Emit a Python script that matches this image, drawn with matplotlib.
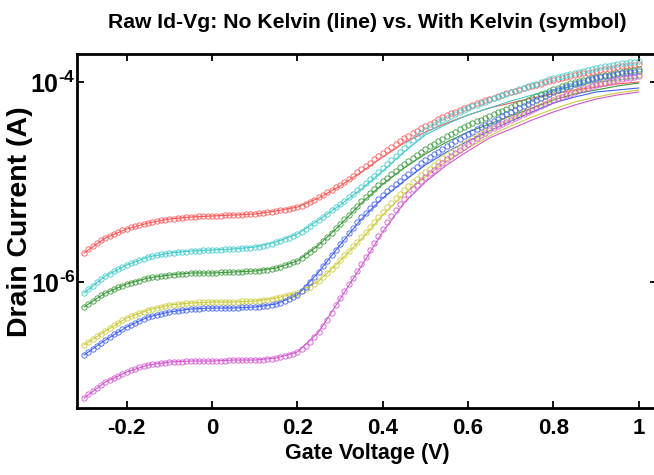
import numpy as np
import matplotlib
matplotlib.use("Agg")
import matplotlib.pyplot as plt

plt.rcParams["mathtext.fontset"] = "custom"
plt.rcParams["mathtext.bf"] = "Liberation Sans:bold"
plt.rcParams["mathtext.rm"] = "Liberation Sans:bold"

SANS = ["Liberation Sans", "DejaVu Sans"]

# Gate sweep for the Kelvin (symbol) measurement: -0.30 V .. 1.00 V in 10 mV steps
vg_kelvin = np.round(np.arange(-0.30, 1.0001, 0.01), 2)
# Gate points for the non-Kelvin (line) measurement: 50 mV steps
vg_line = np.round(np.arange(-0.30, 1.0001, 0.05), 2)

# log10 of drain current (A), With Kelvin
kelvin_red = [
    -5.71, -5.67, -5.64, -5.61, -5.58, -5.56, -5.54, -5.52, -5.50, -5.48,
    -5.47, -5.45, -5.44, -5.43, -5.42, -5.41, -5.40, -5.39, -5.38, -5.38,
    -5.37, -5.37, -5.36, -5.36, -5.35, -5.35, -5.35, -5.34, -5.34, -5.34,
    -5.34, -5.34, -5.34, -5.33, -5.33, -5.33, -5.33, -5.33, -5.32, -5.32,
    -5.32, -5.31, -5.31, -5.30, -5.30, -5.29, -5.28, -5.28, -5.27, -5.26,
    -5.25, -5.24, -5.22, -5.20, -5.18, -5.15, -5.13, -5.10, -5.08, -5.05,
    -5.03, -5.00, -4.97, -4.94, -4.90, -4.87, -4.84, -4.81, -4.77, -4.74,
    -4.71, -4.68, -4.65, -4.62, -4.59, -4.56, -4.54, -4.51, -4.49, -4.46,
    -4.44, -4.42, -4.40, -4.37, -4.35, -4.33, -4.31, -4.30, -4.28, -4.26,
    -4.25, -4.23, -4.21, -4.20, -4.18, -4.17, -4.16, -4.14, -4.13, -4.11,
    -4.10, -4.09, -4.08, -4.06, -4.05, -4.04, -4.03, -4.02, -4.00, -3.99,
    -3.98, -3.97, -3.96, -3.95, -3.94, -3.93, -3.92, -3.91, -3.91, -3.90,
    -3.89, -3.88, -3.87, -3.87, -3.86, -3.85, -3.84, -3.84, -3.83, -3.83,
    -3.82,
]
kelvin_cyan = [
    -6.11, -6.07, -6.04, -6.00, -5.97, -5.94, -5.92, -5.89, -5.87, -5.85,
    -5.83, -5.81, -5.80, -5.78, -5.77, -5.75, -5.74, -5.73, -5.72, -5.72,
    -5.71, -5.71, -5.70, -5.70, -5.70, -5.69, -5.69, -5.69, -5.68, -5.68,
    -5.68, -5.68, -5.68, -5.67, -5.67, -5.67, -5.67, -5.66, -5.66, -5.66,
    -5.65, -5.65, -5.64, -5.63, -5.62, -5.60, -5.59, -5.57, -5.56, -5.54,
    -5.52, -5.50, -5.47, -5.44, -5.41, -5.38, -5.35, -5.32, -5.28, -5.25,
    -5.22, -5.19, -5.15, -5.12, -5.08, -5.05, -5.01, -4.97, -4.94, -4.90,
    -4.86, -4.82, -4.78, -4.74, -4.70, -4.66, -4.62, -4.58, -4.55, -4.51,
    -4.48, -4.45, -4.43, -4.40, -4.38, -4.36, -4.34, -4.32, -4.30, -4.28,
    -4.26, -4.24, -4.23, -4.21, -4.20, -4.18, -4.16, -4.15, -4.13, -4.12,
    -4.10, -4.09, -4.07, -4.06, -4.04, -4.03, -4.02, -4.00, -3.99, -3.97,
    -3.96, -3.95, -3.94, -3.93, -3.92, -3.91, -3.90, -3.89, -3.88, -3.87,
    -3.86, -3.85, -3.84, -3.84, -3.83, -3.82, -3.81, -3.81, -3.80, -3.80,
    -3.79,
]
kelvin_green = [
    -6.25, -6.22, -6.19, -6.16, -6.13, -6.11, -6.09, -6.07, -6.05, -6.04,
    -6.02, -6.01, -6.00, -5.99, -5.97, -5.96, -5.95, -5.95, -5.94, -5.94,
    -5.93, -5.93, -5.92, -5.92, -5.92, -5.91, -5.91, -5.91, -5.91, -5.91,
    -5.91, -5.91, -5.90, -5.90, -5.90, -5.90, -5.90, -5.90, -5.89, -5.89,
    -5.89, -5.89, -5.88, -5.88, -5.87, -5.86, -5.85, -5.83, -5.82, -5.80,
    -5.79, -5.76, -5.73, -5.70, -5.67, -5.63, -5.59, -5.55, -5.51, -5.46,
    -5.42, -5.37, -5.33, -5.28, -5.24, -5.19, -5.15, -5.11, -5.07, -5.03,
    -4.99, -4.96, -4.92, -4.89, -4.85, -4.82, -4.79, -4.76, -4.73, -4.70,
    -4.67, -4.64, -4.62, -4.59, -4.57, -4.54, -4.52, -4.50, -4.47, -4.45,
    -4.43, -4.41, -4.39, -4.38, -4.36, -4.34, -4.32, -4.30, -4.29, -4.27,
    -4.25, -4.23, -4.21, -4.20, -4.18, -4.16, -4.14, -4.12, -4.11, -4.09,
    -4.07, -4.06, -4.04, -4.03, -4.01, -4.00, -3.99, -3.98, -3.97, -3.96,
    -3.95, -3.94, -3.93, -3.93, -3.92, -3.91, -3.90, -3.89, -3.89, -3.88,
    -3.87,
]
kelvin_yellow = [
    -6.63, -6.60, -6.57, -6.54, -6.52, -6.49, -6.46, -6.43, -6.41, -6.38,
    -6.36, -6.34, -6.33, -6.31, -6.30, -6.28, -6.27, -6.26, -6.25, -6.24,
    -6.23, -6.23, -6.22, -6.22, -6.21, -6.21, -6.21, -6.20, -6.20, -6.20,
    -6.20, -6.20, -6.20, -6.20, -6.20, -6.20, -6.20, -6.19, -6.19, -6.19,
    -6.19, -6.19, -6.18, -6.18, -6.17, -6.16, -6.15, -6.14, -6.13, -6.12,
    -6.11, -6.09, -6.07, -6.05, -6.02, -5.99, -5.95, -5.91, -5.87, -5.83,
    -5.78, -5.73, -5.69, -5.64, -5.60, -5.55, -5.50, -5.45, -5.40, -5.35,
    -5.30, -5.25, -5.21, -5.16, -5.12, -5.08, -5.04, -5.00, -4.97, -4.93,
    -4.90, -4.87, -4.83, -4.80, -4.76, -4.73, -4.70, -4.67, -4.65, -4.62,
    -4.59, -4.56, -4.54, -4.51, -4.49, -4.46, -4.44, -4.42, -4.39, -4.37,
    -4.35, -4.33, -4.31, -4.29, -4.27, -4.25, -4.23, -4.21, -4.19, -4.17,
    -4.15, -4.13, -4.12, -4.10, -4.09, -4.07, -4.06, -4.05, -4.04, -4.02,
    -4.01, -4.00, -3.99, -3.98, -3.97, -3.96, -3.95, -3.94, -3.94, -3.93,
    -3.92,
]
kelvin_blue = [
    -6.73, -6.70, -6.67, -6.64, -6.61, -6.58, -6.55, -6.52, -6.50, -6.47,
    -6.45, -6.43, -6.41, -6.39, -6.37, -6.35, -6.34, -6.33, -6.32, -6.31,
    -6.30, -6.29, -6.29, -6.28, -6.28, -6.27, -6.27, -6.27, -6.26, -6.26,
    -6.26, -6.26, -6.26, -6.26, -6.26, -6.26, -6.26, -6.25, -6.25, -6.25,
    -6.25, -6.25, -6.24, -6.24, -6.23, -6.22, -6.21, -6.19, -6.17, -6.15,
    -6.13, -6.09, -6.05, -6.00, -5.95, -5.90, -5.84, -5.79, -5.73, -5.68,
    -5.62, -5.57, -5.51, -5.46, -5.40, -5.35, -5.31, -5.26, -5.22, -5.17,
    -5.13, -5.09, -5.06, -5.02, -4.99, -4.95, -4.92, -4.88, -4.85, -4.81,
    -4.78, -4.75, -4.72, -4.70, -4.67, -4.64, -4.62, -4.59, -4.57, -4.54,
    -4.52, -4.50, -4.47, -4.45, -4.43, -4.41, -4.39, -4.37, -4.34, -4.32,
    -4.30, -4.28, -4.26, -4.24, -4.22, -4.20, -4.18, -4.16, -4.14, -4.12,
    -4.10, -4.08, -4.07, -4.05, -4.04, -4.02, -4.01, -4.00, -3.98, -3.97,
    -3.96, -3.95, -3.94, -3.94, -3.93, -3.92, -3.91, -3.91, -3.90, -3.90,
    -3.89,
]
kelvin_magenta = [
    -7.16, -7.12, -7.09, -7.06, -7.03, -7.00, -6.98, -6.96, -6.94, -6.92,
    -6.90, -6.88, -6.87, -6.85, -6.84, -6.83, -6.82, -6.82, -6.81, -6.81,
    -6.80, -6.80, -6.80, -6.80, -6.79, -6.79, -6.79, -6.79, -6.79, -6.79,
    -6.79, -6.79, -6.79, -6.79, -6.78, -6.78, -6.78, -6.78, -6.78, -6.78,
    -6.78, -6.78, -6.78, -6.77, -6.77, -6.76, -6.75, -6.74, -6.73, -6.72,
    -6.70, -6.67, -6.64, -6.60, -6.55, -6.50, -6.44, -6.38, -6.31, -6.23,
    -6.16, -6.09, -6.02, -5.96, -5.89, -5.82, -5.75, -5.68, -5.61, -5.54,
    -5.47, -5.40, -5.34, -5.28, -5.22, -5.17, -5.12, -5.07, -5.03, -4.99,
    -4.95, -4.91, -4.88, -4.84, -4.81, -4.77, -4.74, -4.71, -4.68, -4.65,
    -4.62, -4.59, -4.56, -4.53, -4.51, -4.48, -4.46, -4.44, -4.42, -4.40,
    -4.38, -4.36, -4.34, -4.32, -4.30, -4.28, -4.26, -4.24, -4.22, -4.20,
    -4.18, -4.16, -4.15, -4.13, -4.12, -4.10, -4.08, -4.07, -4.06, -4.04,
    -4.03, -4.02, -4.01, -4.00, -3.99, -3.98, -3.97, -3.96, -3.96, -3.95,
    -3.94,
]

# log10 of drain current (A), No Kelvin
line_red = [-5.71, -5.56, -5.47, -5.41, -5.37, -5.35, -5.34, -5.33, -5.32,
            -5.29, -5.25, -5.16, -5.04, -4.90, -4.75, -4.61, -4.50, -4.41,
            -4.33, -4.26, -4.21, -4.16, -4.12, -4.08, -4.05, -4.02, -4.00]
line_cyan = [-6.11, -5.94, -5.83, -5.75, -5.71, -5.69, -5.68, -5.67, -5.65,
             -5.60, -5.52, -5.38, -5.23, -5.07, -4.89, -4.70, -4.53, -4.42,
             -4.33, -4.26, -4.19, -4.13, -4.08, -4.04, -4.00, -3.98, -3.96]
line_green = [-6.25, -6.11, -6.02, -5.96, -5.93, -5.91, -5.91, -5.90, -5.89,
              -5.86, -5.79, -5.63, -5.43, -5.21, -5.02, -4.86, -4.72, -4.60,
              -4.50, -4.42, -4.34, -4.26, -4.18, -4.12, -4.08, -4.04, -4.01]
line_yellow = [-6.63, -6.49, -6.36, -6.28, -6.23, -6.21, -6.20, -6.20, -6.19,
               -6.16, -6.11, -5.99, -5.79, -5.57, -5.33, -5.12, -4.95, -4.79,
               -4.66, -4.54, -4.44, -4.35, -4.27, -4.20, -4.15, -4.11, -4.08]
line_blue = [-6.73, -6.58, -6.45, -6.35, -6.30, -6.27, -6.26, -6.26, -6.25,
             -6.22, -6.13, -5.90, -5.63, -5.37, -5.16, -4.99, -4.83, -4.70,
             -4.59, -4.49, -4.39, -4.30, -4.21, -4.15, -4.10, -4.08, -4.06]
line_magenta = [-7.16, -7.00, -6.90, -6.83, -6.80, -6.79, -6.79, -6.78, -6.78,
                -6.76, -6.70, -6.50, -6.17, -5.84, -5.50, -5.21, -5.00, -4.83,
                -4.69, -4.56, -4.47, -4.38, -4.30, -4.23, -4.17, -4.13, -4.10]

colors = ["#ff5555", "#3fcccc", "#3a9a3a", "#cccc3a", "#4060ff", "#d455d4"]
kelvin_sets = [kelvin_red, kelvin_cyan, kelvin_green, kelvin_yellow,
               kelvin_blue, kelvin_magenta]
line_sets = [line_red, line_cyan, line_green, line_yellow, line_blue,
             line_magenta]

fig = plt.figure(figsize=(6.54, 4.75), dpi=100)
ax = fig.add_axes([0.1177, 0.141, 0.887, 0.7453])

for c, ln in zip(colors, line_sets):
    ax.plot(vg_line, 10.0 ** np.array(ln), color=c, lw=0.8)
for c, sy in zip(colors, kelvin_sets):
    ax.plot(vg_kelvin, 10.0 ** np.array(sy), ls="none", marker="o",
            ms=3.8, mfc="none", mec=c, mew=0.6)

ax.set_yscale("log")
ax.set_xlim(-0.3165, 1.043)
ax.set_ylim(10 ** -7.26, 10 ** -3.72)

ax.set_xticks([-0.2, 0, 0.2, 0.4, 0.6, 0.8, 1])
ax.set_xticklabels(["-0.2", "0", "0.2", "0.4", "0.6", "0.8", "1"],
                   family=SANS, fontweight="bold", fontsize=16)
ax.set_yticks([1e-6, 1e-4])
ax.set_yticklabels([r"$10^{\text{-}6}$", r"$10^{\text{-}4}$"],
                   fontsize=18)
ax.yaxis.set_minor_locator(matplotlib.ticker.NullLocator())

ax.tick_params(direction="in", length=5, width=1.3, top=True, right=True)
ax.tick_params(axis="x", pad=7)
ax.tick_params(axis="y", pad=1)
for s in ax.spines.values():
    s.set_linewidth(2.0)

ax.set_xlabel("Gate Voltage (V)", family=SANS, fontweight="bold",
              fontsize=15.5, labelpad=3)
ax.set_ylabel("Drain Current (A)", family=SANS, fontweight="bold",
              fontsize=20.5)
ax.yaxis.set_label_coords(-0.076, 0.527)
ax.set_title("Raw Id-Vg: No Kelvin (line) vs. With Kelvin (symbol)",
             family=SANS, fontweight="bold", fontsize=15.2, pad=19)

fig.savefig("out.png", dpi=100)
